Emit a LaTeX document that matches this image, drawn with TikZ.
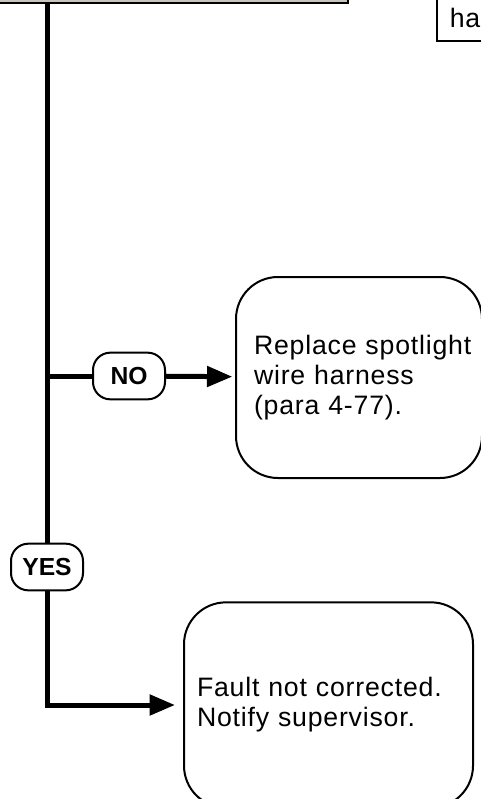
\documentclass[tikz,border=0pt]{standalone}
\usepackage{fontspec}
\setmainfont{Liberation Sans}
\newfontfamily\stepfont[LetterSpace=3]{Liberation Sans}
\usepackage{xcolor}
\definecolor{PanelGray}{RGB}{200,196,188}
\usetikzlibrary{arrows.meta,positioning}

\begin{document}
\begin{tikzpicture}[
    x=0.75pt,y=-0.75pt,
    flow/.style={line width=3.75pt},
    arr/.style={flow,-{Triangle[length=19pt,width=15pt]}},
    pill/.style={draw,line width=1.5pt,fill=white,rounded corners=13pt,minimum width=54pt,minimum height=35pt,inner sep=0pt,font=\fontsize{18.5}{22}\selectfont\bfseries},
    action/.style={draw,line width=1.5pt,rounded corners=31.5pt,anchor=west,align=left,font=\stepfont\fontsize{20}{22.5}\selectfont},
  ]
    \useasboundingbox (0,0) rectangle (480,799);
    \node[draw,line width=1.5pt,fill=PanelGray,minimum width=268.5pt,minimum height=45pt] (check) at (169,-27) {};
    \node[draw,line width=1.2pt,fill=white,anchor=west,align=left,text width=73.5pt,inner xsep=9.75pt,minimum height=34.5pt,font=\stepfont\fontsize{20}{22.5}\selectfont] (harness) at (436,18) {ha};
    \node[pill] (no) at (129,376) {NO};
    \node[pill] (yes) at (47,567) {YES};
    \node[action,text width=157.5pt,inner xsep=13.5pt,minimum height=150.75pt] (replace) at (235,377.5) {\mbox{Replace spotlight}\\wire harness\\(para 4-77).};
    \node[action,text width=197.25pt,inner xsep=9.75pt,minimum height=154pt] (fault) at (183,705) {Fault not corrected.\\Notify supervisor.};
    \draw[flow] (check.south -| yes) -- (yes);
    \draw[flow] (no.west -| yes) -- (no);
    \draw[arr,shorten >=2pt] (no) -- (replace);
    \draw[arr,shorten >=6pt] (yes) |- (fault);
  \end{tikzpicture}
\end{document}
